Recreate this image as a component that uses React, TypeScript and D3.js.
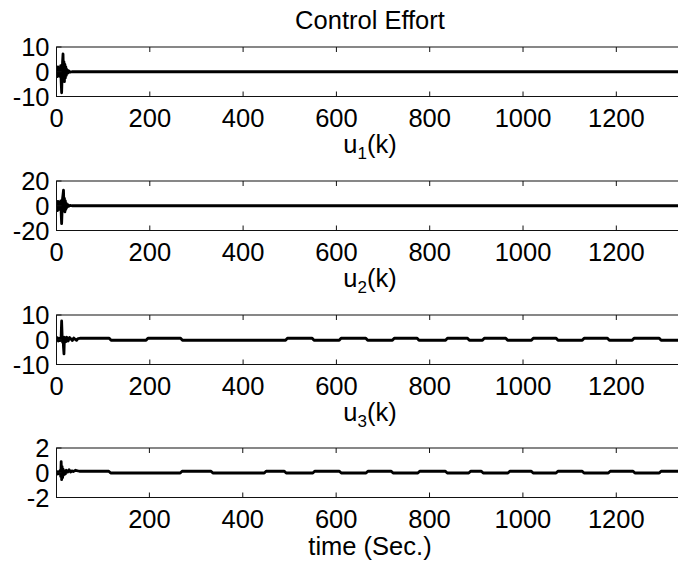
import * as d3 from 'd3';

const W = 678;
const H = 567;

const xTicks = [0, 200, 400, 600, 800, 1000, 1200];
const xMax = 1344;

// early transient of each input, [k, value]
const u1Start: [number, number][] = [
  [0, 0], [1, 1.5], [2, -2], [3, 2], [4, -1.5], [5, 1], [6, -1], [7, 1.5], [8, -2], [9, 2.5],
  [10, -4], [11, -8.5], [12, -2], [13, 4], [14, 7.2], [15, -1], [16, 4], [17, -4], [18, 3],
  [19, -2.5], [20, 2], [21, -1.5], [22, 1], [24, -0.6], [26, 0.4], [29, -0.2], [33, 0],
];
const u2Start: [number, number][] = [
  [0, 0], [1, 3], [2, -4], [3, 3.5], [4, -3], [5, 2], [6, -2], [7, 2.5], [8, -3], [9, 4],
  [10, -6], [11, -14.5], [12, -4], [13, 6], [14, 9], [15, 12.6], [16, -2], [17, 6], [18, -5],
  [19, 4], [20, -3], [21, 2], [22, -1.5], [24, 1], [26, -0.5], [29, 0.3], [33, 0],
];
const u3Start: [number, number][] = [
  [0, 0], [2, 0.8], [4, -0.5], [6, 0.5], [8, -0.3], [10, 1.5], [11, 7.6], [12, 2], [13, -1],
  [14, 1], [15, -3], [16, -5.7], [17, 1], [18, 0.5], [20, -0.8], [22, 1], [25, -0.5], [28, 0.9],
  [31, 0.3], [34, -0.3], [37, 0.7], [40, 0.2], [43, -0.2], [46, 0.5], [50, 0.6],
];
const u4Start: [number, number][] = [
  [0, 0], [2, 0.1], [4, -0.1], [6, 0.05], [9, 0.2], [10, -0.3], [11, 0.9], [12, -0.56],
  [13, 0.5], [14, -0.4], [15, 0.3], [16, -0.2], [18, 0.15], [20, -0.1], [22, 0.2], [25, 0.05],
  [28, 0.25], [31, 0.05], [34, 0.15], [37, 0.1], [42, 0.2], [50, 0.12],
];

// slow switching after the transient: instants and the two levels (first = level right after start)
const u1Switch: number[] = [];
const u1Levels = [0, 0];
const u2Switch: number[] = [];
const u2Levels = [0, 0];
const u3Switch = [115, 194, 268, 493, 550, 608, 665, 722, 775, 836, 883, 915, 965, 1020, 1073, 1129, 1183, 1236, 1294];
const u3Levels = [0.6, -0.2];
const u4Switch = [115, 268, 334, 448, 491, 552, 609, 666, 720, 777, 836, 886, 913, 970, 1020, 1073, 1129, 1185, 1238, 1294];
const u4Levels = [0.12, -0.02];

const yTicks = [[-10, 0, 10], [-20, 0, 20], [-10, 0, 10], [-2, 0, 2]];
const xLabels = ['1', '2', '3', ''];

function buildSeries(start: [number, number][], sw: number[], levels: number[]) {
  const pts = start.slice();
  let i = 0;
  for (const s of sw) {
    pts.push([s - 2, levels[i % 2]]);
    i++;
    pts.push([s + 2, levels[i % 2]]);
  }
  pts.push([xMax, levels[i % 2]]);
  return pts;
}

const series = [
  buildSeries(u1Start, u1Switch, u1Levels),
  buildSeries(u2Start, u2Switch, u2Levels),
  buildSeries(u3Start, u3Switch, u3Levels),
  buildSeries(u4Start, u4Switch, u4Levels),
];

const left = 56.5;
const right = 683.5;
const tops = [47, 181, 315, 448];
const boxH = 49.5;
const font = '"Liberation Sans", Arial, Helvetica, sans-serif';
const fs = 25.5;

function Panel({ idx }: { idx: number }) {
  const top = tops[idx];
  const bottom = top + boxH;
  const ticks = yTicks[idx];
  const x = d3.scaleLinear().domain([idx === 3 ? 1 : 0, xMax]).range([left, right]);
  const y = d3.scaleLinear().domain([ticks[0], ticks[2]]).range([bottom, top]);
  const line = d3.line<[number, number]>().x((d) => x(d[0])).y((d) => y(d[1]));
  const xt = xTicks.filter((t) => t >= x.domain()[0]);
  const clipId = `clip${idx}`;
  return (
    <g>
      <clipPath id={clipId}>
        <rect x={left} y={top} width={right - left} height={boxH} />
      </clipPath>
      <path d={line(series[idx]) || ''} fill="none" stroke="#000" strokeWidth={2.8} strokeLinejoin="round" clipPath={`url(#${clipId})`} />
      <rect x={left} y={top} width={right - left} height={boxH} fill="none" stroke="#111" strokeWidth={1} />
      {xt.map((t) => (
        <g key={t}>
          <line x1={x(t)} x2={x(t)} y1={top} y2={top + 5} stroke="#111" />
          <line x1={x(t)} x2={x(t)} y1={bottom} y2={bottom - 5} stroke="#111" />
          <text x={x(t)} y={bottom + 30} textAnchor="middle" fontSize={fs} fontFamily={font}>{t}</text>
        </g>
      ))}
      {ticks.map((t) => (
        <g key={t}>
          <line x1={left} x2={left + 5} y1={y(t)} y2={y(t)} stroke="#111" />
          <text x={49.5} y={y(t)} dy="0.36em" textAnchor="end" fontSize={fs} fontFamily={font}>{t}</text>
        </g>
      ))}
      {idx < 3 ? (
        <text x={(left + right) / 2} y={bottom + 56} textAnchor="middle" fontSize={fs} fontFamily={font}>
          u<tspan fontSize={17} dy={6}>{xLabels[idx]}</tspan>
          <tspan dy={-6}>(k)</tspan>
        </text>
      ) : (
        <text x={(left + right) / 2} y={bottom + 57} textAnchor="middle" fontSize={fs} fontFamily={font}>time (Sec.)</text>
      )}
    </g>
  );
}

export default function App() {
  return (
    <svg width={W} height={H} style={{ position: 'absolute', left: 0, top: 0, background: '#fff' }}>
      <rect width={W} height={H} fill="#fff" />
      <text x={(left + right) / 2} y={29} textAnchor="middle" fontSize={fs} fontFamily={font}>Control Effort</text>
      {[0, 1, 2, 3].map((i) => (
        <Panel key={i} idx={i} />
      ))}
    </svg>
  );
}
